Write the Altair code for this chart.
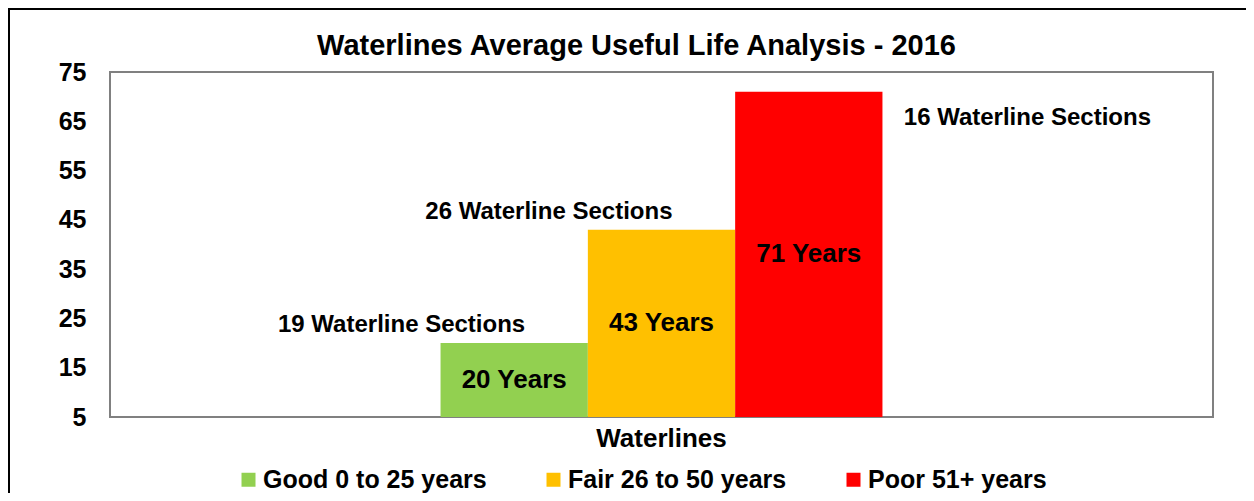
import altair as alt
import pandas as pd

# ---- data ----
group = ["Waterlines", "Waterlines", "Waterlines"]
categories = ["Good 0 to 25 years", "Fair 26 to 50 years", "Poor 51+ years"]
avg_years = [20, 43, 71]
sections = [19, 26, 16]
colors = ["#92D050", "#FFC000", "#FF0000"]
y_ticks = [5, 15, 25, 35, 45, 55, 65, 75]

BASE = y_ticks[0]
TOP = y_ticks[-1]
FONT = "Liberation Sans"

df = pd.DataFrame({
    "group": group,
    "category": categories,
    "years": avg_years,
    "sections": sections,
})

x_enc = alt.X(
    "group:N",
    scale=alt.Scale(paddingInner=0, paddingOuter=0.748),
    axis=alt.Axis(
        title=None, labelAngle=0, ticks=False, domain=False,
        labelFont=FONT, labelFontSize=26, labelFontWeight="bold",
        labelColor="black", labelPadding=8,
    ),
)
xoff_enc = alt.XOffset("category:N", sort=categories,
                       scale=alt.Scale(paddingInner=0, paddingOuter=0))
y_scale = alt.Scale(domain=[BASE, TOP], nice=False, zero=False)

base = alt.Chart(df).transform_calculate(
    years_label="datum.years + ' Years'",
    sections_label="datum.sections + ' Waterline Sections'",
    mid=f"(datum.years + {BASE}) / 2",
)

bars = base.mark_bar(clip=True).encode(
    x=x_enc,
    xOffset=xoff_enc,
    y=alt.Y(
        "years:Q", scale=y_scale,
        axis=alt.Axis(
            values=y_ticks, title=None, ticks=False, domain=False, grid=False,
            labelFont=FONT, labelFontSize=25, labelFontWeight="bold",
            labelColor="black", labelPadding=24,
        ),
    ),
    y2=alt.datum(BASE),
    color=alt.Color(
        "category:N",
        scale=alt.Scale(domain=categories, range=colors),
        legend=alt.Legend(
            title=None, orient="none", direction="horizontal",
            legendX=126, legendY=395,
            symbolType="square", symbolSize=196, symbolStrokeWidth=0,
            symbolOpacity=1,
            labelFont=FONT, labelFontSize=25, labelFontWeight="bold",
            labelColor="black", labelOffset=2, columnPadding=54,
            labelLimit=500,
        ),
    ),
)

year_labels = base.mark_text(
    font=FONT, fontSize=26, fontWeight="bold", color="black",
    baseline="middle", align="center",
).encode(
    x="group:N", xOffset=alt.XOffset("category:N", sort=categories),
    y=alt.Y("mid:Q", scale=y_scale),
    text="years_label:N",
)

section_left = base.transform_filter(
    alt.FieldOneOfPredicate(field="category", oneOf=categories[:2])
).mark_text(
    font=FONT, fontSize=24, fontWeight="bold", color="black",
    baseline="middle", align="right", dx=11, dy=-18,
).encode(
    x="group:N", xOffset=alt.XOffset("category:N", sort=categories),
    y=alt.Y("years:Q", scale=y_scale),
    text="sections_label:N",
)

section_right = base.transform_filter(
    alt.FieldEqualPredicate(field="category", equal=categories[2])
).mark_text(
    font=FONT, fontSize=24, fontWeight="bold", color="black",
    baseline="middle", align="left", dx=95, dy=26,
).encode(
    x="group:N", xOffset=alt.XOffset("category:N", sort=categories),
    y=alt.Y("years:Q", scale=y_scale),
    text="sections_label:N",
)

frame = alt.Chart(alt.Data(values=[{"k": 1}])).mark_rect(
    fillOpacity=0, stroke="black", strokeWidth=2, clip=False
).encode(
    x=alt.value(-101), x2=alt.value(1300),
    y=alt.value(-63), y2=alt.value(600),
)

chart = alt.layer(bars, year_labels, section_left, section_right, frame).properties(
    width=1103,
    height=345,
    background="white",
    title=alt.Title(
        "Waterlines Average Useful Life Analysis - 2016",
        font=FONT, fontSize=29, fontWeight="bold", color="black",
        anchor="middle", baseline="alphabetic", offset=-76, dx=-25,
        frame="group",
    ),
    autosize=alt.AutoSizeParams(type="none"),
    padding={"left": 102, "top": 64, "right": 33, "bottom": 76},
).configure_view(
    stroke="#808080", strokeWidth=2,
)

chart.save("out.html", embed_options={"renderer": "svg", "actions": False})
